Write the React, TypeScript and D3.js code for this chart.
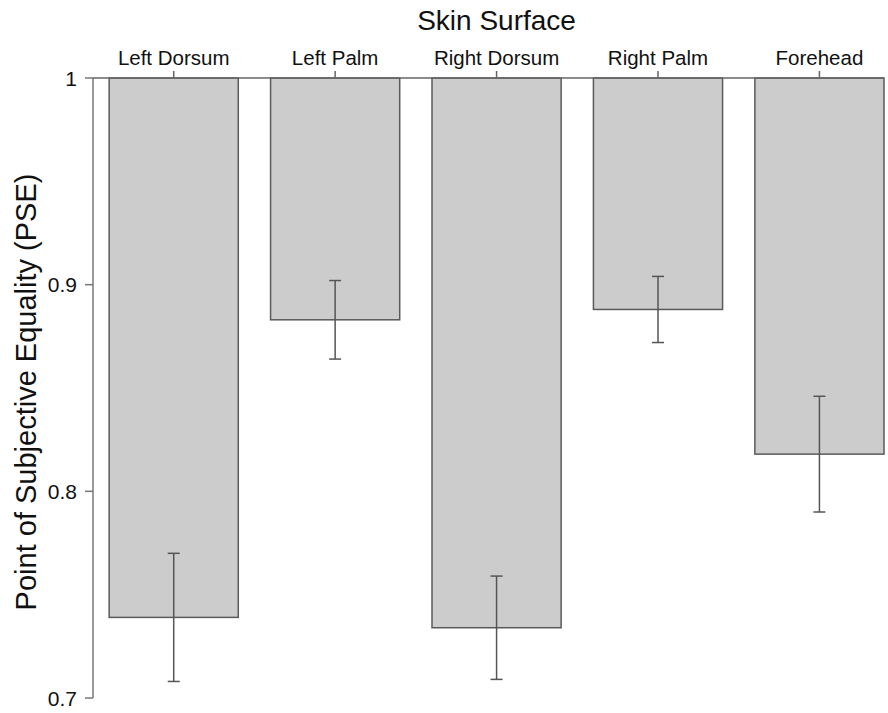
import React from 'react';
import * as d3 from 'd3';

// values
const surfaces = ['Left Dorsum', 'Left Palm', 'Right Dorsum', 'Right Palm', 'Forehead'];
const pse = [0.739, 0.883, 0.734, 0.888, 0.818];
const sem = [0.031, 0.019, 0.025, 0.016, 0.028];
const yTicks = [1, 0.9, 0.8, 0.7];

const W = 888;
const H = 713;
const font = '"Liberation Sans", Arial, Helvetica, sans-serif';

const App = () => {
  // plot box
  const left = 93, right = 884, top = 78, bottom = 698;

  const x = d3
    .scaleBand<string>()
    .domain(surfaces)
    .range([left, right])
    .paddingInner(0.2)
    .paddingOuter(0.05)
    .align(1);

  const y = d3.scaleLinear().domain([0.7, 1]).range([bottom, top]);

  const bw = x.bandwidth();

  return (
    <div style={{position: 'absolute', left: 0, top: 0}}>
      <svg width={W} height={H} style={{display: 'block'}} fontFamily={font}>
        <rect width={W} height={H} fill="#fff" />

        {/* bars hang from 1 down to the value */}
        {surfaces.map((s, i) => (
          <rect
            key={s}
            x={x(s)}
            y={y(1)}
            width={bw}
            height={y(pse[i]) - y(1)}
            fill="#cccccc"
            stroke="#5a5a5a"
            strokeWidth={1.5}
          />
        ))}

        {/* error bars */}
        {surfaces.map((s, i) => {
          const cx = (x(s) as number) + bw / 2;
          const y0 = y(pse[i] + sem[i]);
          const y1 = y(pse[i] - sem[i]);
          return (
            <g key={s} stroke="#555" strokeWidth={1.5}>
              <line x1={cx} x2={cx} y1={y0} y2={y1} />
              <line x1={cx - 6} x2={cx + 6} y1={y0} y2={y0} />
              <line x1={cx - 6} x2={cx + 6} y1={y1} y2={y1} />
            </g>
          );
        })}

        {/* y axis */}
        <line x1={left} x2={left} y1={top} y2={bottom} stroke="#777" strokeWidth={1.5} />
        {yTicks.map(t => (
          <g key={t}>
            <line x1={left - 8} x2={left} y1={y(t)} y2={y(t)} stroke="#777" strokeWidth={1.5} />
            <text
              x={left - 16}
              y={y(t)}
              dy="0.36em"
              textAnchor="end"
              fontSize={21}
              fill="#111"
            >
              {d3.format('')(t)}
            </text>
          </g>
        ))}

        {/* top x axis */}
        <line x1={left} x2={right} y1={top} y2={top} stroke="#666" strokeWidth={1.5} />
        {surfaces.map(s => {
          const cx = (x(s) as number) + bw / 2;
          return (
            <g key={s}>
              <line x1={cx} x2={cx} y1={top - 7} y2={top} stroke="#666" strokeWidth={1.5} />
              <text x={cx} y={65} textAnchor="middle" fontSize={20.5} fill="#111">
                {s}
              </text>
            </g>
          );
        })}

        <text
          x={(x(surfaces[0]) as number + right) / 2}
          y={30}
          textAnchor="middle"
          fontSize={28}
          fill="#111"
        >
          Skin Surface
        </text>

        <text
          transform={`translate(36, ${(top + bottom) / 2 + 4}) rotate(-90)`}
          textAnchor="middle"
          fontSize={29}
          fill="#111"
        >
          Point of Subjective Equality (PSE)
        </text>
      </svg>
    </div>
  );
};

export default App;
